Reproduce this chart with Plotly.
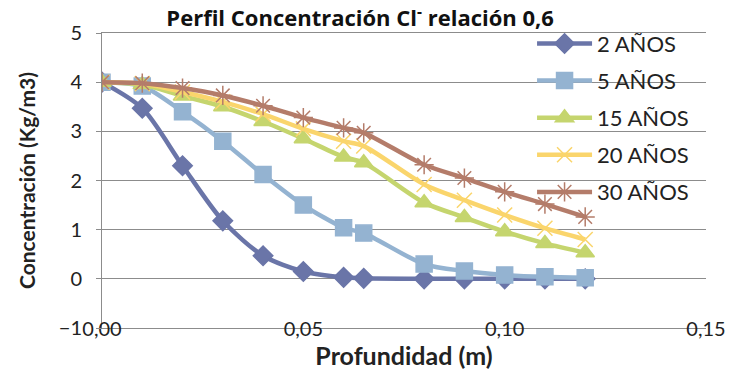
import plotly.graph_objects as go

depth = [0.0, 0.01, 0.02, 0.03, 0.04, 0.05, 0.06, 0.065, 0.08, 0.09, 0.10, 0.11, 0.12]
series_names = ["2 AÑOS", "5 AÑOS", "15 AÑOS", "20 AÑOS", "30 AÑOS"]
y2 = [4.0, 3.47, 2.3, 1.18, 0.47, 0.15, 0.03, 0.01, 0.0, 0.0, 0.0, 0.0, 0.0]
y5 = [4.0, 3.92, 3.4, 2.8, 2.12, 1.5, 1.04, 0.93, 0.3, 0.16, 0.08, 0.04, 0.02]
y15 = [4.0, 3.95, 3.72, 3.5, 3.2, 2.85, 2.48, 2.36, 1.55, 1.25, 0.96, 0.72, 0.53]
y20 = [4.0, 3.97, 3.8, 3.6, 3.35, 3.05, 2.8, 2.7, 1.92, 1.6, 1.3, 1.03, 0.8]
y30 = [4.0, 3.98, 3.88, 3.73, 3.52, 3.28, 3.07, 2.97, 2.32, 2.05, 1.77, 1.52, 1.26]

values = [y2, y5, y15, y20, y30]
colors = ["#6A75A8", "#94B3D1", "#C5D56E", "#FAD56C", "#B47C6A"]
symbols = ["diamond", "square", "triangle-up", "x-thin-open", "asterisk-open"]
sizes = [15, 16, 16, 15, 16]

FONT = "Lato, 'Open Sans', sans-serif"
GRID = "#8c8c8c"

fig = go.Figure()
for i, (name, vals) in enumerate(zip(series_names, values)):
    fig.add_trace(go.Scatter(
        x=depth, y=vals, name=name, mode="lines+markers",
        line=dict(color=colors[i], width=4.5, shape="spline", smoothing=0.8),
        marker=dict(symbol=symbols[i], size=sizes[i], color=colors[i],
                    line=dict(color=colors[i], width=1.5)),
        legendgroup=name,
    ))

fig.update_layout(
    width=738, height=374,
    margin=dict(l=102, r=32, t=33, b=46),
    paper_bgcolor="white", plot_bgcolor="white",
    separators=",.",
    font=dict(family=FONT, size=20, color="#222"),
    title=dict(text="<b>Perfil Concentración Cl<sup>-</sup> relación 0,6</b>",
               x=0.488, xanchor="center", xref="container", yref="container",
               y=0.95, yanchor="middle",
               font=dict(size=22, family="'Open Sans', sans-serif", color="#111")),
    showlegend=True,
    legend=dict(x=0.712, y=1.035, xanchor="left", yanchor="top",
                bgcolor="rgba(0,0,0,0)", font=dict(size=22, family=FONT),
                tracegroupgap=5.5, traceorder="grouped", itemwidth=55,
                maxheight=600),
    xaxis=dict(range=[0, 0.15], dtick=0.05, tick0=0, tickformat=".2f",
               showgrid=False, zeroline=False, showline=True, mirror=True,
               linecolor=GRID, linewidth=1,
               ticks="", tickfont=dict(size=20), ticklabelstandoff=-17,
               title=dict(text="<b>Profundidad (m)</b>", font=dict(size=25), standoff=4)),
    yaxis=dict(range=[-1, 5], tickvals=[-1, 0, 1, 2, 3, 4, 5], showgrid=True,
               gridcolor=GRID, gridwidth=1, zeroline=True, zerolinecolor=GRID,
               zerolinewidth=1, showline=True, linecolor=GRID, linewidth=1,
               ticks="outside", ticklen=5, tickcolor=GRID, tickfont=dict(size=20),
               ticklabelstandoff=10,
               title=dict(text="<b>Concentración (Kg/m3)</b>", font=dict(size=21), standoff=17)),
)

fig.write_html("out.html")
